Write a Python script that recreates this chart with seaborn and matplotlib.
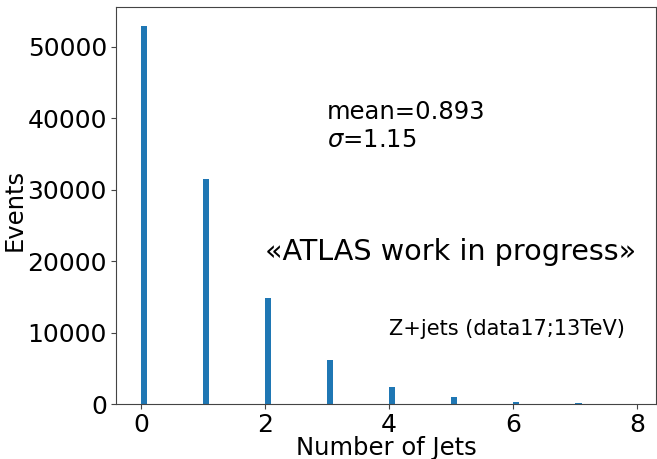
import numpy as np
import pandas as pd
import matplotlib
matplotlib.use("Agg")
import matplotlib.pyplot as plt
import seaborn as sns

n_jets = [0, 1, 2, 3, 4, 5, 6, 7, 8]
events = [52950, 31550, 14850, 6200, 2400, 980, 330, 100, 25]

sns.set_style("ticks")
plt.rcParams['font.family'] = ['DejaVu Sans']
plt.rcParams['text.color'] = 'black'
plt.rcParams['axes.labelcolor'] = 'black'
plt.rcParams['xtick.color'] = '#444444'
plt.rcParams['ytick.color'] = '#444444'
plt.rcParams['xtick.labelcolor'] = 'black'
plt.rcParams['ytick.labelcolor'] = 'black'

df = pd.DataFrame({"jets": n_jets, "events": events})

fig = plt.figure(figsize=(6.57, 4.59), dpi=100)
ax = fig.add_axes([116/657, 1 - 404/459, (656-116)/657, (404-7)/459])
sns.histplot(data=df, x="jets", weights="events", binwidth=0.1, binrange=(0, 8.1),
             color="#1f77b4", alpha=1, linewidth=0, ax=ax)

ax.set_xlim(-0.4, 8.3)
ax.set_ylim(0, 55600)
ax.set_xticks([0, 2, 4, 6, 8])
ax.set_yticks([0, 10000, 20000, 30000, 40000, 50000])
ax.tick_params(labelsize=18, length=3.5, pad=3)
for s in ax.spines.values():
    s.set_color("#444444")
ax.set_xlabel("Number of Jets", fontsize=17.5)
ax.set_ylabel("Events", fontsize=17.5)
ax.xaxis.set_label_coords(0.5, -0.08)
ax.yaxis.set_label_coords(-0.165, 0.49)

ax.text(3.0, 36000, "mean=0.893\n$\\sigma$=1.15", fontsize=17.5, va="baseline", ha="left")
ax.text(2.0, 20150, "«ATLAS work in progress»", fontsize=20.6, va="baseline", ha="left")
ax.text(4.0, 9700, "Z+jets (data17;13TeV)", fontsize=15, va="baseline", ha="left")

fig.savefig("out.png", dpi=100)
